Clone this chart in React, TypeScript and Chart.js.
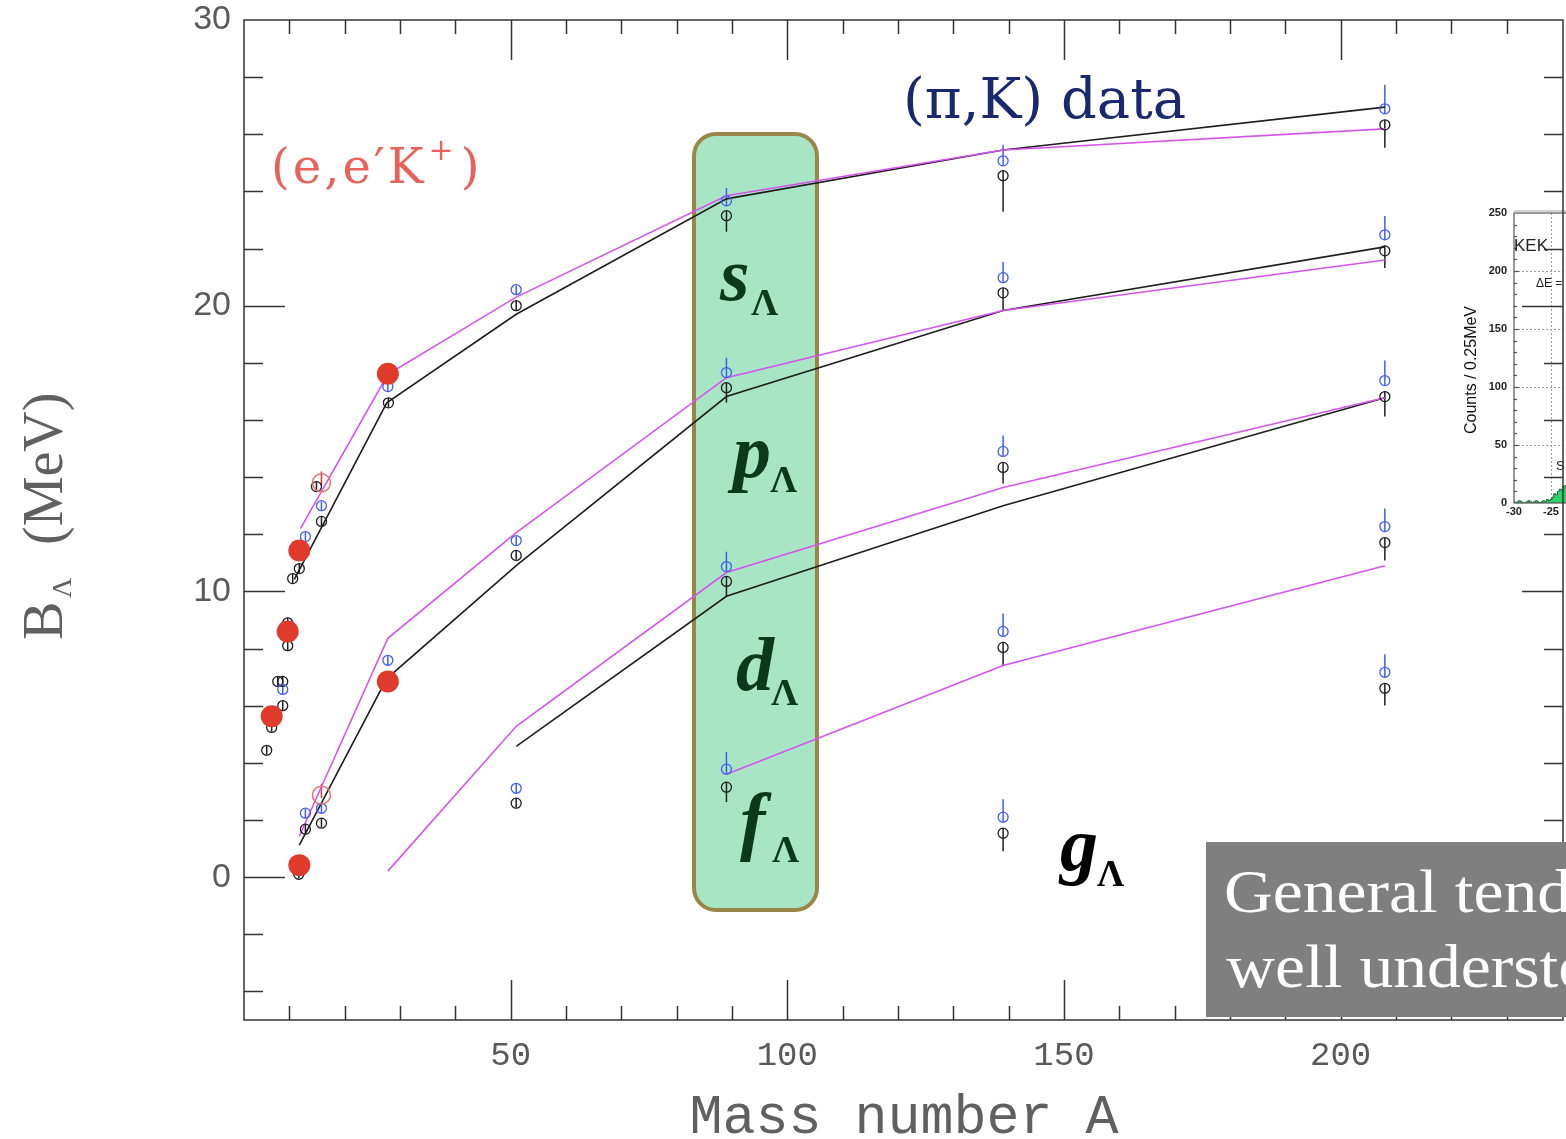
import React, { useEffect, useRef } from "react";
import { Chart, registerables } from "chart.js";

Chart.register(...registerables);

// ---------------- axes ----------------
const X_MIN = 1.8;
const X_MAX = 240.2;
const Y_MIN = -5;
const Y_MAX = 30;
const X_TICK_LABELS = [50, 100, 150, 200];
const Y_TICK_LABELS = [0, 10, 20, 30];

// ---------------- theory curves ----------------
const sMagA = [12, 27.8, 51, 89, 139, 208];
const sMagB = [12.2, 17.6, 20.3, 23.85, 25.45, 26.19];
const sBlkA = [10.9, 27.6, 51, 89, 139, 208];
const sBlkB = [10.42, 16.6, 19.7, 23.74, 25.45, 26.95];
const pMagA = [11.8, 27.8, 51, 89, 139, 208];
const pMagB = [1.43, 8.36, 12.06, 17.48, 19.83, 21.6];
const pBlkA = [11.8, 27.6, 51, 89, 139, 208];
const pBlkB = [1.12, 6.95, 10.9, 16.82, 19.83, 22.06];
const dMagA = [27.8, 51, 89, 139, 208];
const dMagB = [0.21, 5.28, 10.66, 13.64, 16.78];
const dBlkA = [51, 89, 139, 208];
const dBlkB = [4.58, 9.83, 13.0, 16.78];
const fMagA = [89, 139, 208];
const fMagB = [3.6, 7.41, 10.9];

// ---------------- (pi,K) data: blue (upper) ----------------
const blueA = [8.8, 12.9, 15.8, 27.8, 12.9, 15.8, 27.8, 51, 51, 51, 89, 89, 89, 89, 139, 139, 139, 139, 139, 208, 208, 208, 208, 208];
const blueB = [6.57, 11.92, 13.0, 17.17, 2.24, 2.41, 7.59, 20.56, 11.78, 3.11, 23.67, 17.66, 10.87, 3.78, 25.07, 20.98, 14.9, 8.6, 2.1, 26.89, 22.48, 17.38, 12.27, 7.17];
const blueErr = [0.15, 0.15, 0.15, 0.15, 0.15, 0.15, 0.15, 0.15, 0.15, 0.15, 0.45, 0.52, 0.52, 0.6, 0.56, 0.56, 0.56, 0.63, 0.63, 0.84, 0.66, 0.7, 0.63, 0.63];

// ---------------- black points (lower) ----------------
const blackA = [5.9, 6.8, 7.9, 8.8, 8.8, 9.7, 9.7, 10.6, 11.8, 14.9, 15.8, 27.9, 11.7, 12.9, 15.8, 51, 51, 51, 89, 89, 89, 89, 139, 139, 139, 139, 139, 208, 208, 208, 208, 208];
const blackB = [4.44, 5.24, 6.85, 6.85, 6.0, 8.1, 8.9, 10.45, 10.8, 13.67, 12.45, 16.6, 0.1, 1.68, 1.89, 20.0, 11.26, 2.59, 23.15, 17.13, 10.35, 3.15, 24.55, 20.45, 14.34, 8.04, 1.54, 26.33, 21.92, 16.82, 11.71, 6.61];
const blackErr = [0.15, 0.15, 0.15, 0.15, 0.15, 0.15, 0.15, 0.15, 0.15, 0.15, 0.15, 0.15, 0.15, 0.15, 0.15, 0.15, 0.15, 0.15, 0.56, 0.52, 0.52, 0.52, 1.26, 0.6, 0.56, 0.63, 0.63, 0.8, 0.6, 0.7, 0.63, 0.6];

// ---------------- (e,e'K+) ----------------
const redA = [6.8, 9.7, 11.8, 11.8, 27.8, 27.8];
const redB = [5.63, 8.6, 11.43, 0.42, 17.62, 6.85];
const redOpenA = [15.8, 15.8];
const redOpenB = [13.8, 2.87];

// ---------------- inset histogram ----------------
const insetX = [-30, -29.75, -29.5, -29.25, -29, -28.75, -28.5, -28.25, -28, -27.75, -27.5, -27.25, -27, -26.75, -26.5, -26.25, -26, -25.75, -25.5, -25.25, -25, -24.75, -24.5, -24.25, -24, -23.75, -23.5, -23.25, -23, -22.75, -22.5, -22.25];
const insetCounts = [1, 0, 1, 2, 1, 0, 0, 1, 2, 1, 0, 1, 2, 1, 0, 1, 2, 1, 3, 2, 3, 5, 8, 7, 10, 12, 11, 14, 15, 20, 26, 32];
const INSET_Y_TICKS = [0, 50, 100, 150, 200, 250];
const INSET_X_TICKS = [-30, -25];

const pts = (a: number[], b: number[]) => a.map((x, i) => ({ x, y: b[i] }));

const MAG = "#d653f0";
const BLK = "#1e1e1e";
const BLUE = "#3f5ff2";

function lineDs(a: number[], b: number[], color: string) {
  return {
    data: pts(a, b),
    showLine: true,
    borderColor: color,
    borderWidth: 1.6,
    pointRadius: 0,
    fill: false,
    tension: 0,
    order: 10,
  };
}

function sub(ctx: CanvasRenderingContext2D, main: string, x: number, y: number, sx: number, sy: number, color: string) {
  ctx.fillStyle = color;
  ctx.font = "bold italic 76px 'Liberation Serif'";
  ctx.textAlign = "left";
  ctx.textBaseline = "alphabetic";
  ctx.fillText(main, x, y);
  ctx.font = "bold 38px 'Liberation Serif'";
  ctx.fillText("Λ", sx, sy);
}

const decorPlugin = {
  id: "decor",
  beforeDatasetsDraw(chart: any) {
    const ctx: CanvasRenderingContext2D = chart.ctx;
    const xs = chart.scales.x;
    const ys = chart.scales.y;
    ctx.save();
    // green highlight box
    const bx = 694, by = 134, bw = 123, bh = 776, r = 22;
    ctx.beginPath();
    ctx.moveTo(bx + r, by);
    ctx.arcTo(bx + bw, by, bx + bw, by + bh, r);
    ctx.arcTo(bx + bw, by + bh, bx, by + bh, r);
    ctx.arcTo(bx, by + bh, bx, by, r);
    ctx.arcTo(bx, by, bx + bw, by, r);
    ctx.closePath();
    ctx.fillStyle = "#a8e5c4";
    ctx.fill();
    ctx.lineWidth = 4;
    ctx.strokeStyle = "#9a8748";
    ctx.stroke();

    // error bars
    ctx.lineWidth = 1.5;
    ctx.strokeStyle = BLUE;
    blueA.forEach((a, i) => {
      const px = xs.getPixelForValue(a);
      ctx.beginPath();
      ctx.moveTo(px, ys.getPixelForValue(blueB[i] - 0.18));
      ctx.lineTo(px, ys.getPixelForValue(blueB[i] + blueErr[i]));
      ctx.stroke();
    });
    ctx.strokeStyle = BLK;
    blackA.forEach((a, i) => {
      const px = xs.getPixelForValue(a);
      ctx.beginPath();
      ctx.moveTo(px, ys.getPixelForValue(blackB[i] + 0.18));
      ctx.lineTo(px, ys.getPixelForValue(blackB[i] - blackErr[i]));
      ctx.stroke();
    });
    ctx.strokeStyle = "#e03a2c";
    redOpenA.forEach((a, i) => {
      const px = xs.getPixelForValue(a);
      ctx.beginPath();
      ctx.moveTo(px, ys.getPixelForValue(redOpenB[i] - 0.1));
      ctx.lineTo(px, ys.getPixelForValue(redOpenB[i] + 0.4));
      ctx.stroke();
    });
    ctx.restore();
  },
  afterDatasetsDraw(chart: any) {
    const ctx: CanvasRenderingContext2D = chart.ctx;
    ctx.save();
    const G = "#0b3a1b";
    sub(ctx, "s", 720, 300, 751, 315, G);
    sub(ctx, "p", 733, 477, 770, 492, G);
    sub(ctx, "d", 736, 690, 771, 705, G);
    sub(ctx, "f", 740, 846, 772, 862, G);
    sub(ctx, "g", 1060, 870, 1097, 886, "#000");

    // (e,e'K+)
    ctx.fillStyle = "#e8625a";
    ctx.font = "48px 'DejaVu Serif'";
    ctx.textAlign = "left";
    (ctx as any).letterSpacing = "3px";
    ctx.fillText("(e,e′K", 271, 183);
    let w = ctx.measureText("(e,e′K").width;
    ctx.font = "30px 'DejaVu Serif'";
    ctx.fillText("+", 271 + w + 2, 160);
    let w2 = ctx.measureText("+").width;
    ctx.font = "48px 'DejaVu Serif'";
    ctx.fillText(")", 271 + w + w2 + 6, 183);
    (ctx as any).letterSpacing = "0px";

    // (pi,K) data
    ctx.fillStyle = "#1a2870";
    ctx.font = "56px 'DejaVu Serif'";
    ctx.fillText("(π,K) data", 903, 118);
    ctx.restore();
  },
  afterDraw(chart: any) {
    const ctx: CanvasRenderingContext2D = chart.ctx;
    const xs = chart.scales.x;
    const ys = chart.scales.y;
    const { left, right, top, bottom } = chart.chartArea;
    ctx.save();
    ctx.strokeStyle = "#333";
    ctx.lineWidth = 1.5;
    ctx.strokeRect(left, top, right - left, bottom - top);
    // x ticks
    for (let v = 10; v < X_MAX - 1; v += 10) {
      const px = Math.round(xs.getPixelForValue(v)) + 0.5;
      const len = v % 50 === 0 ? 40 : 14;
      ctx.beginPath();
      ctx.moveTo(px, bottom);
      ctx.lineTo(px, bottom - len);
      ctx.moveTo(px, top);
      ctx.lineTo(px, top + len);
      ctx.stroke();
    }
    // y ticks
    for (let v = -4; v < Y_MAX; v += 2) {
      const py = Math.round(ys.getPixelForValue(v)) + 0.5;
      const len = v % 10 === 0 ? 41 : 19;
      ctx.beginPath();
      ctx.moveTo(left, py);
      ctx.lineTo(left + len, py);
      ctx.moveTo(right, py);
      ctx.lineTo(right - len, py);
      ctx.stroke();
    }
    // tick labels
    ctx.fillStyle = "#5a5a5a";
    ctx.font = "34px 'Liberation Sans'";
    ctx.textAlign = "right";
    ctx.textBaseline = "middle";
    Y_TICK_LABELS.forEach((v) => ctx.fillText(String(v), 231, ys.getPixelForValue(v)));
    ctx.font = "34px 'Liberation Mono'";
    ctx.textAlign = "center";
    X_TICK_LABELS.forEach((v) => ctx.fillText(String(v), xs.getPixelForValue(v), 1056));

    // axis titles
    ctx.fillStyle = "#606060";
    ctx.font = "55px 'Liberation Mono'";
    ctx.textBaseline = "alphabetic";
    ctx.fillText("Mass number A", 904, 1133);

    ctx.save();
    ctx.translate(62, 640);
    ctx.rotate(-Math.PI / 2);
    ctx.textAlign = "left";
    ctx.font = "58px 'Liberation Serif'";
    ctx.fillText("B", 0, 0);
    ctx.font = "28px 'Liberation Serif'";
    ctx.fillText("Λ", 42, 9);
    ctx.font = "56px 'Liberation Serif'";
    ctx.fillText("(MeV)", 95, 0);
    ctx.restore();

    // gray box
    ctx.fillStyle = "#7f7f7f";
    ctx.fillRect(1206, 842, 370, 175);
    ctx.fillStyle = "#ffffff";
    ctx.font = "62px 'Liberation Serif'";
    ctx.textAlign = "left";
    ctx.save();
    ctx.translate(1224, 0);
    ctx.scale(1.09, 1);
    ctx.fillText("General tendency is", 0, 912);
    ctx.fillText("well understood", 2, 987);
    ctx.restore();
    ctx.restore();
  },
};

const insetPlugin = {
  id: "insetDecor",
  beforeDatasetsDraw(chart: any) {
    const ctx: CanvasRenderingContext2D = chart.ctx;
    const xs = chart.scales.x;
    const ys = chart.scales.y;
    const { left, right, top, bottom } = chart.chartArea;
    ctx.save();
    ctx.strokeStyle = "#a0a0a0";
    ctx.lineWidth = 1;
    ctx.setLineDash([2, 2]);
    [50, 100, 150, 200].forEach((v) => {
      const py = Math.round(ys.getPixelForValue(v)) + 0.5;
      ctx.beginPath();
      ctx.moveTo(left, py);
      ctx.lineTo(right, py);
      ctx.stroke();
    });
    [-25, -20, -15].forEach((v) => {
      const px = Math.round(xs.getPixelForValue(v)) + 0.5;
      ctx.beginPath();
      ctx.moveTo(px, top);
      ctx.lineTo(px, bottom);
      ctx.stroke();
    });
    ctx.restore();
  },
  afterDraw(chart: any) {
    const ctx: CanvasRenderingContext2D = chart.ctx;
    const xs = chart.scales.x;
    const ys = chart.scales.y;
    const { left, right, top, bottom } = chart.chartArea;
    ctx.save();
    ctx.strokeStyle = "#555";
    ctx.lineWidth = 1.2;
    ctx.strokeRect(left, top, right - left, bottom - top);
    ctx.strokeStyle = "#aaa";
    ctx.beginPath();
    ctx.moveTo(left, top - 2);
    ctx.lineTo(right, top - 2);
    ctx.stroke();
    // minor y ticks
    ctx.strokeStyle = "#555";
    for (let v = 10; v < 250; v += 10) {
      const py = Math.round(ys.getPixelForValue(v)) + 0.5;
      ctx.beginPath();
      ctx.moveTo(left, py);
      ctx.lineTo(left + (v % 50 === 0 ? 5 : 3), py);
      ctx.stroke();
    }
    ctx.fillStyle = "#222";
    ctx.font = "bold 11px 'Liberation Sans'";
    ctx.textAlign = "right";
    ctx.textBaseline = "middle";
    INSET_Y_TICKS.forEach((v) => ctx.fillText(String(v), left - 7, ys.getPixelForValue(v)));
    ctx.textAlign = "center";
    ctx.textBaseline = "top";
    INSET_X_TICKS.forEach((v) => ctx.fillText(String(v), xs.getPixelForValue(v), bottom + 3));

    ctx.save();
    ctx.translate(36, 170);
    ctx.rotate(-Math.PI / 2);
    ctx.textAlign = "center";
    ctx.textBaseline = "alphabetic";
    ctx.font = "16px 'Liberation Sans'";
    ctx.fillStyle = "#111";
    ctx.fillText("Counts / 0.25MeV", 0, 0);
    ctx.restore();

    ctx.textAlign = "left";
    ctx.textBaseline = "alphabetic";
    ctx.font = "17px 'Liberation Sans'";
    ctx.fillText("KEK", 74, 51);
    ctx.font = "12px 'Liberation Sans'";
    ctx.fillText("ΔE = 2", 96, 87);
    ctx.font = "13px 'Liberation Sans'";
    ctx.fillText("S", 116, 270);
    ctx.restore();
  },
};

export default function App() {
  const mainRef = useRef<HTMLCanvasElement | null>(null);
  const insetRef = useRef<HTMLCanvasElement | null>(null);

  useEffect(() => {
    const main = new Chart(mainRef.current as HTMLCanvasElement, {
      type: "scatter",
      data: {
        datasets: [
          lineDs(sMagA, sMagB, MAG),
          lineDs(sBlkA, sBlkB, BLK),
          lineDs(pMagA, pMagB, MAG),
          lineDs(pBlkA, pBlkB, BLK),
          lineDs(dMagA, dMagB, MAG),
          lineDs(dBlkA, dBlkB, BLK),
          lineDs(fMagA, fMagB, MAG),
          {
            data: pts(blackA, blackB),
            pointRadius: 5,
            pointBorderWidth: 1.3,
            pointBorderColor: BLK,
            pointBackgroundColor: "rgba(0,0,0,0)",
            borderColor: BLK,
            backgroundColor: "rgba(0,0,0,0)",
            showLine: false,
            order: 4,
          },
          {
            data: pts(blueA, blueB),
            pointRadius: 5,
            pointBorderWidth: 1.3,
            pointBorderColor: BLUE,
            pointBackgroundColor: "rgba(0,0,0,0)",
            borderColor: BLUE,
            backgroundColor: "rgba(0,0,0,0)",
            showLine: false,
            order: 3,
          },
          {
            data: pts(redOpenA, redOpenB),
            pointRadius: 9,
            pointBorderWidth: 1.5,
            pointBorderColor: "#e8706a",
            pointBackgroundColor: "rgba(0,0,0,0)",
            showLine: false,
            order: 2,
          },
          {
            data: pts(redA, redB),
            pointRadius: 11,
            pointBorderWidth: 0,
            pointBorderColor: "#e03a2c",
            pointBackgroundColor: "#e03a2c",
            showLine: false,
            order: 1,
          },
        ] as any,
      },
      options: {
        responsive: false,
        animation: false,
        devicePixelRatio: 1,
        events: [],
        layout: { autoPadding: false, padding: { left: 244, top: 20, right: 3, bottom: 119 } },
        plugins: { legend: { display: false }, tooltip: { enabled: false } },
        scales: {
          x: { type: "linear", display: false, min: X_MIN, max: X_MAX },
          y: { type: "linear", display: false, min: Y_MIN, max: Y_MAX },
        },
      } as any,
      plugins: [decorPlugin],
    });

    const inset = new Chart(insetRef.current as HTMLCanvasElement, {
      type: "line",
      data: {
        datasets: [
          {
            data: pts(insetX, insetCounts),
            stepped: "middle",
            fill: "origin",
            backgroundColor: "#2fd06a",
            borderColor: "#145f2c",
            borderWidth: 1,
            pointRadius: 0,
          },
        ] as any,
      },
      options: {
        responsive: false,
        animation: false,
        devicePixelRatio: 1,
        events: [],
        layout: { autoPadding: false, padding: { left: 74, top: 13, right: 38, bottom: 32 } },
        plugins: { legend: { display: false }, tooltip: { enabled: false } },
        scales: {
          x: { type: "linear", display: false, min: -30, max: -10 },
          y: { type: "linear", display: false, min: 0, max: 250 },
        },
      } as any,
      plugins: [insetPlugin],
    });

    return () => {
      main.destroy();
      inset.destroy();
    };
  }, []);

  return (
    <div
      style={{
        position: "fixed",
        left: 0,
        top: 0,
        width: 1566,
        height: 1139,
        overflow: "hidden",
        background: "#fff",
      }}
    >
      <canvas
        ref={insetRef}
        width={260}
        height={335}
        style={{ position: "absolute", left: 1440, top: 200, width: 260, height: 335 }}
      />
      <canvas
        ref={mainRef}
        width={1566}
        height={1139}
        style={{ position: "absolute", left: 0, top: 0, width: 1566, height: 1139, pointerEvents: "none" }}
      />
    </div>
  );
}
